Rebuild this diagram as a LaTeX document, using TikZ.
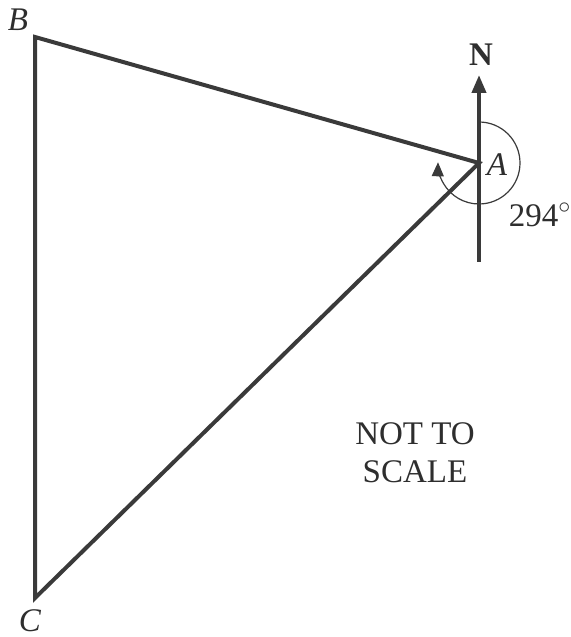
\documentclass[tikz,border=0pt]{standalone}
\usepackage{fontspec}
\setmainfont{Liberation Serif}
\usepackage{tikz}
\usetikzlibrary{arrows.meta,positioning,calc}
\definecolor{ink}{HTML}{3A3A3A}
\definecolor{txt}{HTML}{2E2E2E}
\tikzset{
  % Triangle sides and compass line
  side/.style={draw=ink,line width=2pt,line join=miter},
  north/.style={draw=ink,line width=2pt,-{Triangle[length=9pt,width=7pt]}},
  % Bearing arc
  brg/.style={draw=ink,line width=0.6pt,-{Triangle[length=7pt,width=6pt]}},
  % Labels
  lbl/.style={text=txt,font=\fontsize{16.5}{19}\selectfont,inner sep=1pt},
  vlbl/.style={text=txt,font=\fontsize{16.5}{19}\selectfont\itshape,inner sep=1pt}
}
\begin{document}
\begin{tikzpicture}[x=0.5pt,y=0.5pt]
  \useasboundingbox (0,0) rectangle (571,637);

  \coordinate (A) at (479,474);
  \coordinate (B) at (35,600);
  \coordinate (C) at (35,39);
  \coordinate (S) at (479,375);
  \coordinate (N) at (479,562);

  % triangle
  \draw[side] (B) -- (A) -- (C) -- cycle;

  % north line
  \draw[north] (S) -- (N);
  \node[lbl,font=\fontsize{16.5}{19}\selectfont\bfseries] (nlab) at (481,582) {N};

  % bearing of B from A
  \draw[brg] ([shift={(90:41)}]A) arc[start angle=90,end angle=-181,radius=41];

  % vertex labels
  \node[vlbl] (lA) at (497,472) {A};
  \node[vlbl] (lB) at (18,617) {B};
  \node[vlbl] (lC) at (30,16) {C};
  \node[lbl] (deg) at (540,422) {294$^\circ$};

  \node[lbl,align=center] (nts) at (415,184) {NOT TO\\SCALE};
\end{tikzpicture}
\end{document}
